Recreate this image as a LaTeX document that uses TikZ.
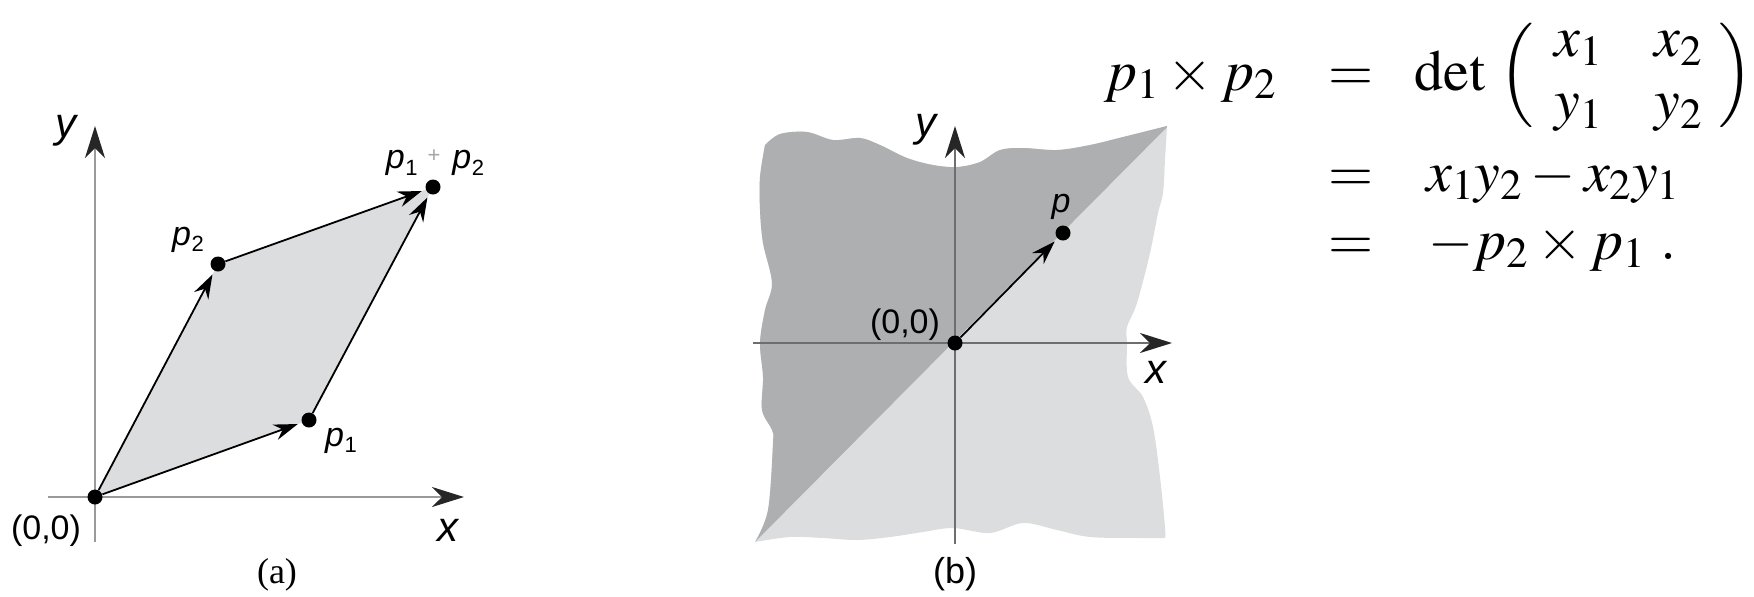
\documentclass[tikz,border=0pt]{standalone}
\usepackage{mathptmx}
\usepackage[no-math]{fontspec}
\setmainfont{Liberation Serif}
\setsansfont{Liberation Sans}
\usetikzlibrary{arrows.meta}
\definecolor{lightsh}{HTML}{DCDDDF}
\definecolor{darksh}{HTML}{AEAFB1}
\definecolor{axisA}{HTML}{9A9A9A}
\definecolor{axisB}{HTML}{6E6E6E}
\newcommand{\plab}[1]{\textit{p}\kern0.3pt\raisebox{-0.35ex}{\fontsize{11}{11}\selectfont\upshape #1}}
\def\regionpath{plot[smooth,tension=0.55] coordinates {(765,145) (780,134) (807,132) (833,140) (860,138) (880,145) (907,158) (933,165) (957,167) (980,162) (1000,150) (1023,148) (1057,150) (1090,145) (1123,137) (1167,126)}
 -- plot[smooth,tension=0.55] coordinates {(1167,126) (1165,160) (1163,193) (1158,213) (1150,253) (1137,303) (1127,327) (1127,343) (1128,377) (1143,397) (1153,427) (1160,477) (1165,527) (1165,538)}
 -- plot[smooth,tension=0.55] coordinates {(1165,538) (1140,538) (1090,537) (1057,530) (1023,523) (990,533) (953,528) (923,532) (890,537) (857,540) (823,538) (790,537) (755,542)}
 -- plot[smooth,tension=0.55] coordinates {(755,542) (768,510) (773,443) (772,430) (762,410) (763,377) (760,343) (765,310) (772,283) (763,243) (760,210) (760,177) (765,145)} -- cycle}
\begin{document}
\begin{tikzpicture}[x=0.5pt,y=-0.5pt,
  axisline/.style={line width=1pt},
  axtip/.style={-{Stealth[length=16pt,width=10pt,inset=5pt,color=black!85]}},
  vec/.style={line width=0.9pt,-{Stealth[length=12pt,width=8pt,inset=4pt]},shorten >=2pt},
  dot/.style={circle,fill=black,inner sep=0pt,minimum size=7.5pt},
  lbl/.style={font=\fontsize{17}{20}\selectfont\sffamily,inner sep=0pt},
  axlbl/.style={font=\fontsize{21}{24}\selectfont\sffamily\itshape,inner sep=0pt},
  eq/.style={font=\fontsize{29}{31.5}\selectfont,inner sep=0pt}]
\useasboundingbox (0,0) rectangle (1754,596);
% ---------- panel (a)
\fill[lightsh] (95,497) -- (309,420) -- (433,187) -- (218,264) -- cycle;
\coordinate (axL) at (48,497);
\coordinate (axR) at (464,497);
\coordinate (ayB) at (95,542);
\coordinate (ayT) at (95,126);
\draw[axisline,draw=axisA,axtip] (axL) -- (axR);
\draw[axisline,draw=axisA,axtip] (ayB) -- (ayT);
\node[dot] (O) at (95,497) {};
\node[dot] (P1) at (309,420) {};
\node[dot] (P2) at (218,264) {};
\node[dot] (P12) at (433,187) {};
\draw[vec] (O) -- (P1);
\draw[vec] (O) -- (P2);
\draw[vec] (P1) -- (P12);
\draw[vec] (P2) -- (P12);
\node[axlbl] (ya) at (66,131) {y};
\node[axlbl] (xa) at (448,530) {x};
\node[lbl] (oa) at (46,531) {(0,0)};
\node[lbl] (lp2) at (188,240) {\plab{2}};
\node[lbl] (lp1) at (341,441) {\plab{1}};
\node[lbl] (lp12) at (435,163) {\plab{1}\hspace{5pt}{\color{black!35}\fontsize{11}{11}\selectfont\raisebox{0.5ex}{+}}\hspace{6pt}\plab{2}};
\node[inner sep=0pt,font=\fontsize{18}{20}\selectfont\rmfamily] (capa) at (277,575) {(a)};
% ---------- panel (b)
\fill[lightsh] \regionpath;
\begin{scope}
\clip \regionpath;
\fill[darksh] (745,552) -- (1177,117) -- (1177,100) -- (700,100) -- (700,552) -- cycle;
\end{scope}
\coordinate (bxL) at (753,343);
\coordinate (bxR) at (1172,343);
\coordinate (byB) at (955,544);
\coordinate (byT) at (955,126);
\draw[axisline,draw=axisB,axtip] (bxL) -- (bxR);
\draw[axisline,draw=axisB,axtip] (byB) -- (byT);
\node[dot] (Ob) at (955,343) {};
\node[dot] (Pb) at (1063,233) {};
\draw[vec] (Ob) -- (Pb);
\node[axlbl] (yb) at (926,130) {y};
\node[axlbl] (xb) at (1156,372) {x};
\node[lbl] (ob) at (905,325) {(0,0)};
\node[lbl] (pb) at (1061,207) {\textit{p}};
\node[inner sep=0pt,font=\fontsize{18}{20}\selectfont\sffamily] (capb) at (955,574) {(b)};
% ---------- equation
\node[eq,anchor=base east] (lhs) at (1277,90) {$p_1 \times p_2$};
\node[eq,anchor=base] (e1) at (1351,90) {$=$};
\node[eq,anchor=base] (e2) at (1351,191) {$=$};
\node[eq,anchor=base] (e3) at (1351,259) {$=$};
\node[eq,anchor=base west] (r1) at (1414,90) {\delimiterfactor=800 \delimitershortfall=12pt $\det\hspace{4pt}\left(\begin{array}{@{\hspace{10pt}}c@{\hspace{26pt}}c@{\hspace{8pt}}} x_1 & x_2\\ y_1 & y_2\end{array}\right)$};
\node[eq,anchor=base west] (r2) at (1426,191) {$x_1y_2 - x_2y_1$};
\node[eq,anchor=base west] (r3) at (1428,259) {$-p_2 \times p_1\ .$};
\end{tikzpicture}
\end{document}
